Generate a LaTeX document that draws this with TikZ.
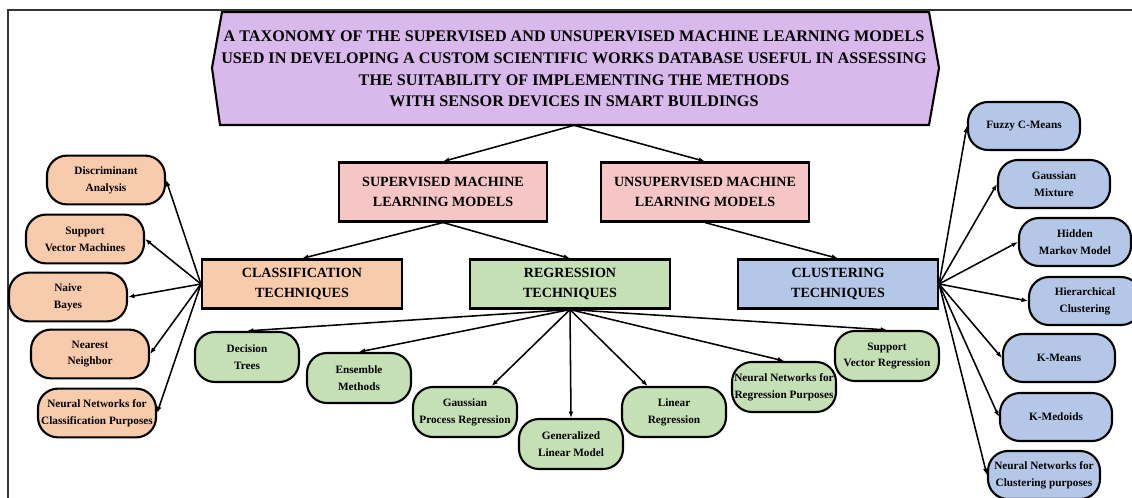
\documentclass[tikz,border=0pt]{standalone}
\usepackage{fontspec}
\setmainfont{Liberation Serif}
\usetikzlibrary{arrows.meta}
\definecolor{titlecol}{RGB}{217,184,236}
\definecolor{modcol}{RGB}{246,197,197}
\definecolor{clscol}{RGB}{248,203,173}
\definecolor{regcol}{RGB}{197,224,180}
\definecolor{clucol}{RGB}{180,199,231}
\begin{document}
\begin{tikzpicture}[x=0.025cm,y=-0.025cm,
  arr/.style={line width=1.1pt,-{Latex[length=4.5pt,width=3.5pt]}},
  model/.style={draw,line width=1.5pt,fill=modcol,align=center,inner sep=1pt,
    minimum width=5.2cm,minimum height=1.475cm,font=\fontsize{10}{14}\selectfont\bfseries},
  tech/.style={model,minimum width=5.0cm,minimum height=1.225cm},
  leaf/.style={draw,line width=1.5pt,rounded corners=0.5cm,align=center,inner sep=1pt,
    minimum height=1.22cm,font=\fontsize{8}{12}\selectfont\bfseries},
  clsleaf/.style={leaf,fill=clscol,minimum width=2.95cm},
  regleaf/.style={leaf,fill=regcol,minimum width=2.6cm,minimum height=1.25cm},
  cluleaf/.style={leaf,fill=clucol,minimum width=2.8cm,minimum height=1.2cm}]
\useasboundingbox (0,0) rectangle (1132,498);
\draw[line width=1pt,black!80] (1132,10) -- (8,10) -- (8,498);
% title
\filldraw[fill=titlecol,line width=1.5pt] (222,12) -- (929,12) -- (939,68) -- (929,125) -- (220,125) -- (212,68) -- cycle;
\node[align=center,minimum height=2.8cm,font=\fontsize{11.5}{15.5}\selectfont\bfseries] (title) at (574,69)
  {A TAXONOMY OF THE SUPERVISED AND UNSUPERVISED MACHINE LEARNING MODELS\\
   USED IN DEVELOPING A CUSTOM SCIENTIFIC WORKS DATABASE USEFUL IN ASSESSING\\
   THE SUITABILITY OF IMPLEMENTING THE METHODS\\
   WITH SENSOR DEVICES IN SMART BUILDINGS};
% models and techniques
\node[model] (sup) at (443,192) {SUPERVISED MACHINE\\LEARNING MODELS};
\node[model] (unsup) at (705,192) {UNSUPERVISED MACHINE\\LEARNING MODELS};
\node[tech,fill=clscol] (cls) at (302,284) {CLASSIFICATION\\TECHNIQUES};
\node[tech,fill=regcol] (reg) at (570,284) {REGRESSION\\TECHNIQUES};
\node[tech,fill=clucol] (clu) at (838,284) {CLUSTERING\\TECHNIQUES};
\draw[arr] (title.south) -- (sup.north);
\draw[arr] (title.south) -- (unsup.north);
\draw[arr] (sup.south) -- (cls.north);
\draw[arr] (sup.south) -- (reg.north);
\draw[arr] (unsup.south) -- (clu.north);
% classification
\foreach \n/\x/\y/\t in {da/106/180/{Discriminant\\Analysis},svm/85/239/{Support\\Vector Machines},
  nb/68/297/{Naive\\Bayes},nn/90/354/{Nearest\\Neighbor},nnc/97/413/{Neural Networks for\\Classification Purposes}}
  {\node[clsleaf] (\n) at (\x,\y) {\t};
   \draw[arr] (cls.west) -- (\n.east);}
% regression
\foreach \n/\x/\y/\t in {dt/247/357/{Decision\\Trees},ens/359/378/{Ensemble\\Methods},
  gpr/465/412/{Gaussian\\Process Regression},glm/571/444/{Generalized\\Linear Model},
  lr/674/412/{Linear\\Regression},nnr/784/387/{Neural Networks for\\Regression Purposes},
  svr/887/356/{Support\\Vector Regression}}
  {\node[regleaf] (\n) at (\x,\y) {\t};}
\foreach \t in {dt.north,ens.north,gpr,glm.north,lr,nnr.north,svr.north}
  \draw[arr] (reg.south) -- (\t);
% clustering
\foreach \n/\x/\y/\t in {fcm/1024/126/{Fuzzy C-Means},gm/1054/184/{Gaussian\\Mixture},
  hmm/1075/242/{Hidden\\Markov Model},hc/1085/301/{Hierarchical\\Clustering},
  km/1059/358/{K-Means},kmed/1056/417/{K-Medoids},nncl/1044/475/{Neural Networks for\\Clustering purposes}}
  {\node[cluleaf] (\n) at (\x,\y) {\t};
   \draw[arr] (clu.east) -- (\n.west);}
\end{tikzpicture}
\end{document}
